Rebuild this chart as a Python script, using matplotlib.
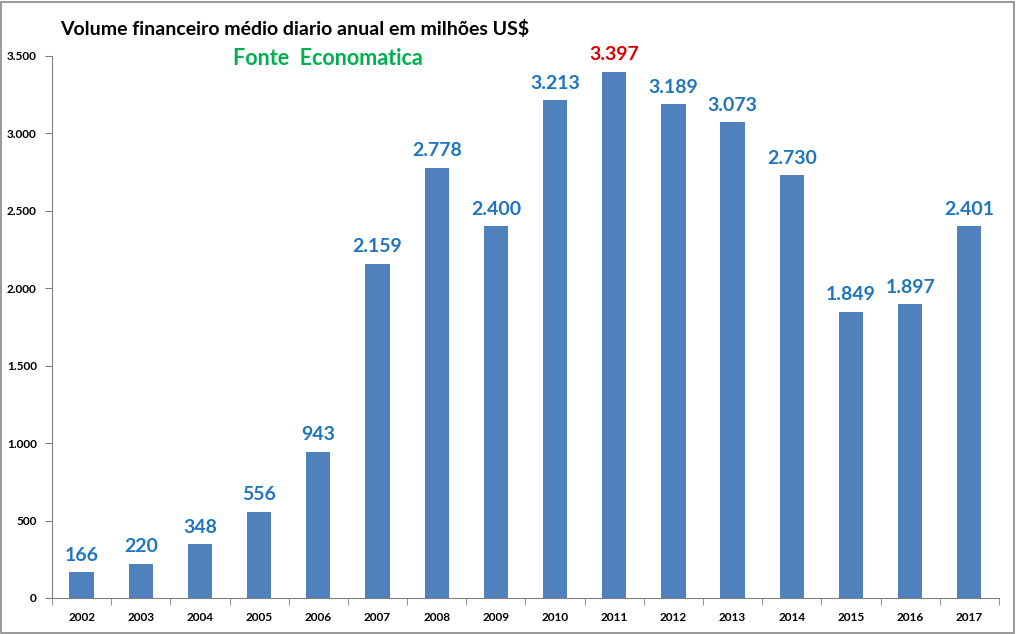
import numpy as np
import matplotlib.pyplot as plt
from matplotlib.ticker import FuncFormatter

years = ['2002', '2003', '2004', '2005', '2006', '2007', '2008', '2009',
         '2010', '2011', '2012', '2013', '2014', '2015', '2016', '2017']
volume = [166, 220, 348, 556, 943, 2159, 2778, 2400,
          3213, 3397, 3189, 3073, 2730, 1849, 1897, 2401]
highlight = '2011'

plt.rcParams['font.family'] = ['Lato', 'DejaVu Sans']

fig = plt.figure(figsize=(10.16, 6.34), dpi=100)
ax = fig.add_axes([0.0512, 0.0568, 0.932, 0.855])

x = np.arange(len(years))
ax.bar(x, volume, width=0.41, color='#4F81BD', zorder=2)

# rótulos de valor
for xi, yr, v in zip(x, years, volume):
    lab = f'{v:,}'.replace(',', '.')
    col = '#E00000' if yr == highlight else '#1F75BE'
    ax.text(xi, v + 55, lab, ha='center', va='bottom', fontsize=14,
            fontweight='bold', color=col)

ax.set_xlim(-0.5, len(years) - 0.5)
ax.set_ylim(0, 3500)
ax.set_yticks(np.arange(0, 3501, 500))
ax.yaxis.set_major_formatter(FuncFormatter(lambda v, p: f'{int(v):,}'.replace(',', '.')))
ax.set_xticks(x)
ax.set_xticklabels(years)
ax.set_xticks(np.arange(-0.5, len(years), 1), minor=True)
ax.tick_params(axis='x', which='major', length=0, pad=10)
ax.tick_params(axis='x', which='minor', length=5, color='#808080')
ax.tick_params(axis='y', length=5, color='#808080', pad=6)
for lbl in ax.get_xticklabels() + ax.get_yticklabels():
    lbl.set_fontsize(8.5)
    lbl.set_fontweight('bold')

for s in ['top', 'right']:
    ax.spines[s].set_visible(False)
for s in ['left', 'bottom']:
    ax.spines[s].set_color('#808080')

fig.text(0.059, 0.955, 'Volume financeiro médio diario anual em milhões US$',
         fontsize=14, fontweight='bold', color='black', va='center')
fig.text(0.229, 0.908, 'Fonte  Economatica', fontsize=15.5, fontweight='bold',
         color='#00B050', va='center')

# moldura
fig.patches.append(plt.Rectangle((0.001, 0.002), 0.997, 0.995, transform=fig.transFigure,
                                 fill=False, edgecolor='#888888', linewidth=1.2))

fig.savefig('out.png', dpi=100)
